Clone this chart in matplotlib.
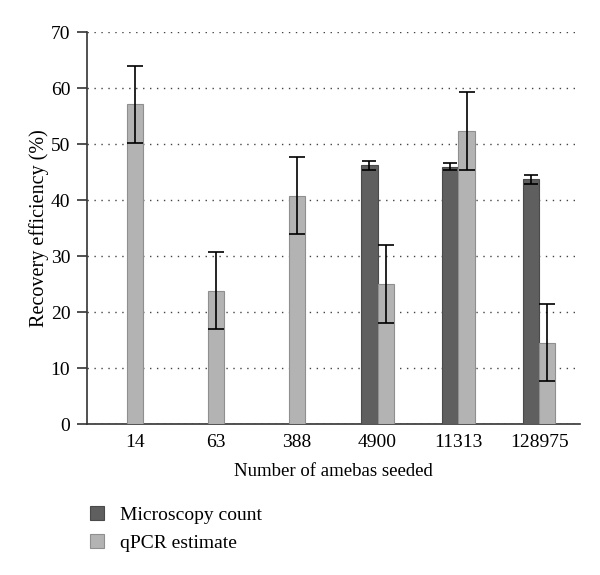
import matplotlib.pyplot as plt
import numpy as np

plt.rcParams['font.family'] = ['Liberation Serif', 'DejaVu Serif']

categories = ["14", "63", "388", "4900", "11313", "128975"]
microscopy = [np.nan, np.nan, np.nan, 46.2, 46.0, 43.7]
microscopy_err = [np.nan, np.nan, np.nan, 0.8, 0.7, 0.75]
qpcr = [57.1, 23.8, 40.8, 25.0, 52.3, 14.5]
qpcr_err = [6.9, 6.9, 6.9, 7.0, 7.0, 6.9]

fig = plt.figure(figsize=(6, 5.75), dpi=100)
ax = fig.add_axes([0.145, 0.2626, 0.822, 0.6814])

x = np.arange(len(categories))
w = 0.2
# groups with only one bar are centred on the tick
both = ~np.isnan(np.array(microscopy))
off = np.where(both, w / 2, 0.0)

ax.bar(x - off, microscopy, w, color='#5f5f5f', edgecolor='#4a4a4a', linewidth=0.8,
       yerr=microscopy_err, error_kw=dict(ecolor='black', elinewidth=1.2, capsize=5, capthick=1.2),
       label='Microscopy count', zorder=3)
ax.bar(x + off, qpcr, w, color='#b3b3b3', edgecolor='#8f8f8f', linewidth=0.8,
       yerr=qpcr_err, error_kw=dict(ecolor='black', elinewidth=1.2, capsize=6, capthick=1.2),
       label='qPCR estimate', zorder=3)

ax.set_xlim(-0.593, 5.506)
ax.set_ylim(0, 70)
ax.set_yticks(range(0, 71, 10))
ax.set_xticks(x)
ax.set_xticklabels(categories)
ax.yaxis.grid(True, linestyle=(0, (1, 4)), color='#444444', linewidth=1.0, zorder=0)
ax.set_axisbelow(True)

for s in ['top', 'right']:
    ax.spines[s].set_visible(False)
ax.spines['left'].set_color('#333333')
ax.spines['bottom'].set_color('#333333')
ax.spines['left'].set_linewidth(1.2)
ax.spines['bottom'].set_linewidth(1.2)
ax.tick_params(axis='x', length=0, labelsize=14, pad=7)
ax.tick_params(axis='y', length=7, width=1.2, color='#333333', labelsize=14, pad=5)

ax.set_xlabel('Number of amebas seeded', fontsize=13.5, labelpad=9)
ax.set_ylabel('Recovery efficiency (%)', fontsize=14.5, labelpad=1)

h, l = ax.get_legend_handles_labels()
fig.legend(h, l, loc='lower left', bbox_to_anchor=(0.12, 0.01), frameon=False,
           fontsize=14, handlelength=0.75, handleheight=0.75, handletextpad=0.8,
           labelspacing=0.5)

fig.savefig('out.png', dpi=100)
